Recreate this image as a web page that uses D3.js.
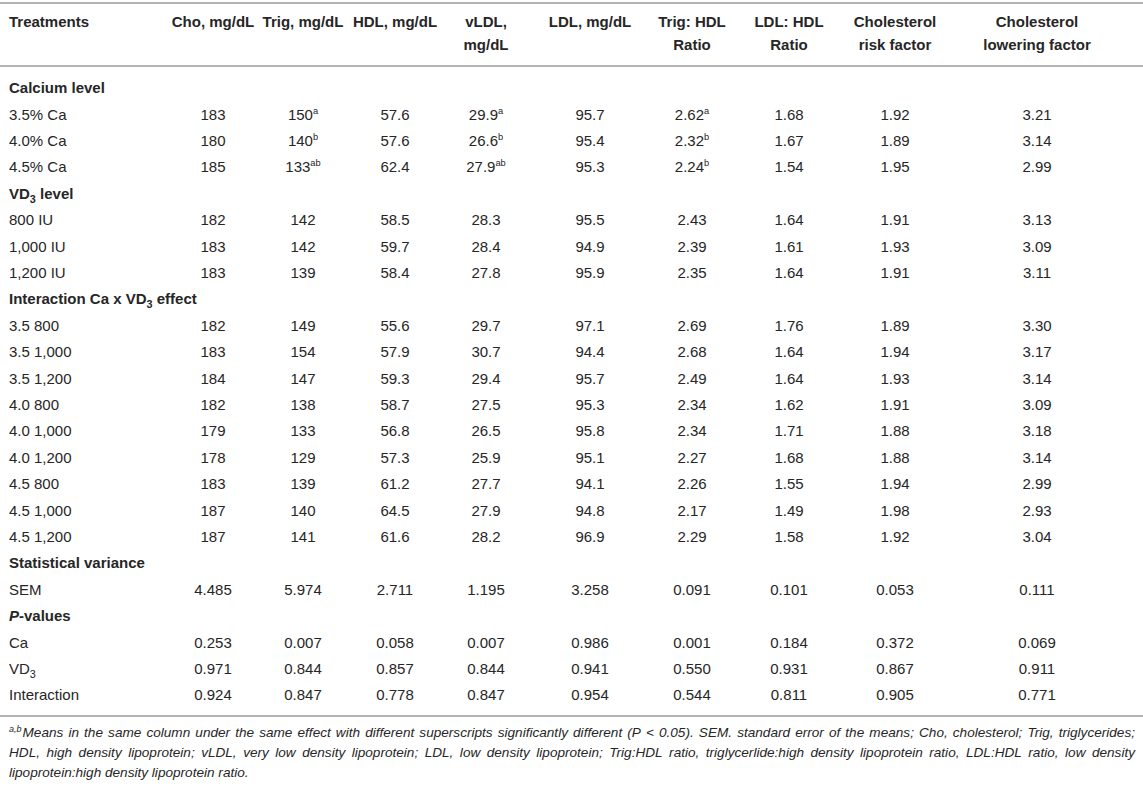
<!DOCTYPE html>
<html>
<head>
<meta charset="utf-8">
<script src="https://cdn.jsdelivr.net/npm/d3@7/dist/d3.min.js"></script>
<style>
  html, body { margin: 0; padding: 0; background: #fff; }
  svg { display: block; font-family: "Liberation Sans", Arial, Helvetica, sans-serif; }
</style>
</head>
<body>
<svg id="chart" width="1143" height="786"></svg>
<script>
// ---------- DATA ----------
const headerLabel = "Treatments";
const columnHeaders = [
  ["Cho, mg/dL"],
  ["Trig, mg/dL"],
  ["HDL, mg/dL"],
  ["vLDL,", "mg/dL"],
  ["LDL, mg/dL"],
  ["Trig: HDL", "Ratio"],
  ["LDL: HDL", "Ratio"],
  ["Cholesterol", "risk factor"],
  ["Cholesterol", "lowering factor"]
];

// section rows: label tokens ("_3" = subscript 3, "*P" = italic P)
const sectionCalcium = "Calcium level";
const sectionVD3 = "VD_3 level";
const sectionInteraction = "Interaction Ca x VD_3 effect";
const sectionVariance = "Statistical variance";
const sectionP = "*P-values";

const calciumLabels = ["3.5% Ca", "4.0% Ca", "4.5% Ca"];
const calciumValues = [
  ["183", "150^a", "57.6", "29.9^a", "95.7", "2.62^a", "1.68", "1.92", "3.21"],
  ["180", "140^b", "57.6", "26.6^b", "95.4", "2.32^b", "1.67", "1.89", "3.14"],
  ["185", "133^ab", "62.4", "27.9^ab", "95.3", "2.24^b", "1.54", "1.95", "2.99"]
];

const vd3Labels = ["800 IU", "1,000 IU", "1,200 IU"];
const vd3Values = [
  ["182", "142", "58.5", "28.3", "95.5", "2.43", "1.64", "1.91", "3.13"],
  ["183", "142", "59.7", "28.4", "94.9", "2.39", "1.61", "1.93", "3.09"],
  ["183", "139", "58.4", "27.8", "95.9", "2.35", "1.64", "1.91", "3.11"]
];

const interactionLabels = ["3.5 800", "3.5 1,000", "3.5 1,200", "4.0 800", "4.0 1,000", "4.0 1,200", "4.5 800", "4.5 1,000", "4.5 1,200"];
const interactionValues = [
  ["182", "149", "55.6", "29.7", "97.1", "2.69", "1.76", "1.89", "3.30"],
  ["183", "154", "57.9", "30.7", "94.4", "2.68", "1.64", "1.94", "3.17"],
  ["184", "147", "59.3", "29.4", "95.7", "2.49", "1.64", "1.93", "3.14"],
  ["182", "138", "58.7", "27.5", "95.3", "2.34", "1.62", "1.91", "3.09"],
  ["179", "133", "56.8", "26.5", "95.8", "2.34", "1.71", "1.88", "3.18"],
  ["178", "129", "57.3", "25.9", "95.1", "2.27", "1.68", "1.88", "3.14"],
  ["183", "139", "61.2", "27.7", "94.1", "2.26", "1.55", "1.94", "2.99"],
  ["187", "140", "64.5", "27.9", "94.8", "2.17", "1.49", "1.98", "2.93"],
  ["187", "141", "61.6", "28.2", "96.9", "2.29", "1.58", "1.92", "3.04"]
];

const semLabels = ["SEM"];
const semValues = [
  ["4.485", "5.974", "2.711", "1.195", "3.258", "0.091", "0.101", "0.053", "0.111"]
];

const pLabels = ["Ca", "VD_3", "Interaction"];
const pValues = [
  ["0.253", "0.007", "0.058", "0.007", "0.986", "0.001", "0.184", "0.372", "0.069"],
  ["0.971", "0.844", "0.857", "0.844", "0.941", "0.550", "0.931", "0.867", "0.911"],
  ["0.924", "0.847", "0.778", "0.847", "0.954", "0.544", "0.811", "0.905", "0.771"]
];

const footnoteLines = [
  "Means in the same column under the same effect with different superscripts significantly different (P < 0.05). SEM. standard error of the means; Cho, cholesterol; Trig, triglycerides;",
  "HDL, high density lipoprotein; vLDL, very low density lipoprotein; LDL, low density lipoprotein; Trig:HDL ratio, triglycerlide:high density lipoprotein ratio, LDL:HDL ratio, low density",
  "lipoprotein:high density lipoprotein ratio."
];
const footnoteSup = "a,b";

// ---------- BUILD ROWS ----------
const rows = [];
function addSection(label) { rows.push({ type: "section", label }); }
function addData(labels, values) {
  labels.forEach((l, i) => rows.push({ type: "data", label: l, values: values[i] }));
}
addSection(sectionCalcium); addData(calciumLabels, calciumValues);
addSection(sectionVD3); addData(vd3Labels, vd3Values);
addSection(sectionInteraction); addData(interactionLabels, interactionValues);
addSection(sectionVariance); addData(semLabels, semValues);
addSection(sectionP); addData(pLabels, pValues);

// ---------- LAYOUT ----------
const W = 1143, H = 786;
const svg = d3.select("#chart");
const textColor = "#262626";
const ruleColor = "#b3b3b3";
const fontSize = 15;

const colCenters = [213, 303, 395, 486, 590, 692, 789, 895, 1037];
const x = d3.scaleOrdinal().domain(d3.range(columnHeaders.length)).range(colCenters);
const xLeft = 9;
const y = d3.scaleLinear().domain([0, rows.length - 1]).range([88, 695]);
const headerY = d3.scaleLinear().domain([0, 1]).range([22, 45]);
const baseOff = 5.3;

// rules
const rules = [3, 66, 716];
svg.selectAll("line.rule").data(rules).join("line")
  .attr("class", "rule")
  .attr("x1", 0).attr("x2", W)
  .attr("y1", d => d).attr("y2", d => d)
  .attr("stroke", ruleColor).attr("stroke-width", 2);

// rich label renderer
function renderLabel(sel, label) {
  let s = label;
  let italicFirst = false;
  if (s.startsWith("*")) { italicFirst = true; s = s.slice(1); }
  const parts = s.split(/(_\d)/).filter(p => p);
  let pendingDy = 0;
  parts.forEach((p, i) => {
    if (/^_\d$/.test(p)) {
      sel.append("tspan").attr("font-size", fontSize * 0.72).attr("dy", 4).text(p.slice(1));
      pendingDy = -4;
    } else if (italicFirst && i === 0) {
      sel.append("tspan").attr("font-style", "italic").text(p[0]);
      sel.append("tspan").text(p.slice(1));
    } else {
      const t = sel.append("tspan").text(p);
      if (pendingDy) { t.attr("dy", pendingDy); pendingDy = 0; }
    }
  });
}
function renderValue(sel, v) {
  const [num, sup] = v.split("^");
  sel.append("tspan").text(num);
  if (sup) {
    sel.append("tspan").attr("font-size", fontSize * 0.62).attr("dy", -6).text(sup);
  }
}

// header
const header = svg.append("g").attr("font-weight", "bold").attr("fill", textColor).attr("font-size", fontSize);
header.append("text").attr("x", xLeft).attr("y", headerY(0) + baseOff).text(headerLabel);
columnHeaders.forEach((lines, ci) => {
  lines.forEach((ln, li) => {
    header.append("text")
      .attr("x", x(ci)).attr("y", headerY(li) + baseOff)
      .attr("text-anchor", "middle").text(ln);
  });
});

// body
const body = svg.append("g").attr("fill", textColor).attr("font-size", fontSize);
rows.forEach((r, ri) => {
  const yy = y(ri) + baseOff;
  const t = body.append("text").attr("x", xLeft).attr("y", yy);
  if (r.type === "section") t.attr("font-weight", "bold");
  renderLabel(t, r.label);
  if (r.type === "data") {
    r.values.forEach((v, ci) => {
      const vt = body.append("text").attr("x", x(ci)).attr("y", yy).attr("text-anchor", "middle");
      renderValue(vt, v);
    });
  }
});

// footnote (justified)
const footY = d3.scaleLinear().domain([0, 2]).range([737, 777]);
const foot = svg.append("g").attr("fill", textColor).attr("font-size", 13.6).attr("font-style", "italic");
const footLeft = 9, footRight = 1135;
const spaceW = (() => { const s = foot.append("text").text("a a"); const a = foot.append("text").text("aa");
  const w = s.node().getComputedTextLength() - a.node().getComputedTextLength(); s.remove(); a.remove(); return w; })();
footnoteLines.forEach((line, li) => {
  const yy = footY(li);
  let startX = footLeft;
  if (li === 0) {
    const st = foot.append("text").attr("x", startX).attr("y", yy - 5).attr("font-size", 9).text(footnoteSup);
    startX += st.node().getComputedTextLength() + 1;
  }
  const words = line.split(" ");
  const justify = li < footnoteLines.length - 1;
  const nodes = words.map(w => foot.append("text").attr("y", yy).text(w));
  const widths = nodes.map(n => n.node().getComputedTextLength());
  const total = d3.sum(widths);
  const gap = justify ? (footRight - startX - total) / (words.length - 1) : spaceW;
  let cx = startX;
  nodes.forEach((n, i) => { n.attr("x", cx); cx += widths[i] + gap; });
});
</script>
</body>
</html>
